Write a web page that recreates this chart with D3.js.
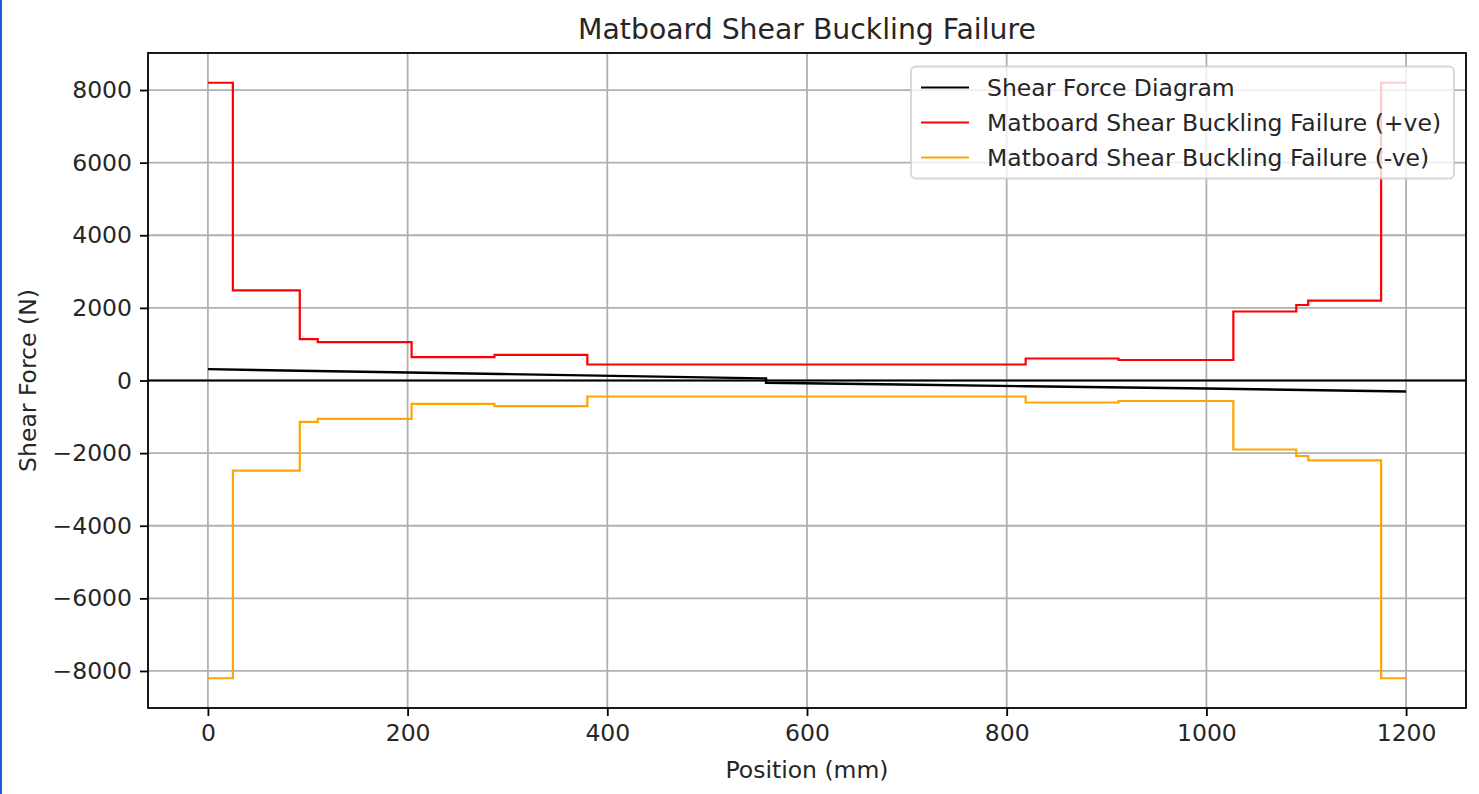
<!DOCTYPE html>
<html>
<head>
<meta charset="utf-8">
<script src="https://cdn.jsdelivr.net/npm/d3@7"></script>
<style>
  html, body { margin: 0; padding: 0; background: #ffffff; }
  svg { display: block; }
  text { font-family: "DejaVu Sans", sans-serif; fill: #262626; }
</style>
</head>
<body>
<svg id="chart" width="1479" height="794"></svg>
<script>
// ---- data ----
const title = "Matboard Shear Buckling Failure";
const xLabel = "Position (mm)";
const yLabel = "Shear Force (N)";
const seriesNames = ["Shear Force Diagram", "Matboard Shear Buckling Failure (+ve)", "Matboard Shear Buckling Failure (-ve)"];

// shear force diagram (N) vs position (mm)
const sfdX = [0, 293, 559, 559, 693, 820, 1000, 1200];
const sfdV = [312, 180, 58, -64, -112, -158, -222, -302];

// step breakpoints (mm) for buckling-failure envelopes
const stepX = [0, 25, 92, 110, 204, 287, 380, 819, 912, 1027, 1090, 1102, 1175, 1200];
// value on each segment starting at the corresponding breakpoint (last repeats to close)
const posFail = [8200, 2480, 1140, 1055, 645, 705, 440, 606, 565, 1900, 2080, 2200, 8200, 8200];
const negFail = [-8200, -2480, -1140, -1055, -645, -705, -440, -606, -565, -1900, -2080, -2200, -8200, -8200];

const xTicks = [0, 200, 400, 600, 800, 1000, 1200];
const yTicks = [-8000, -6000, -4000, -2000, 0, 2000, 4000, 6000, 8000];

// ---- layout ----
const svg = d3.select("#chart");
const L = 148, R = 1466, T = 53, B = 708;
const fs = 23.5;

// matplotlib-like 5% margins
const xMin = d3.min(stepX), xMax = d3.max(stepX);
const xPad = (xMax - xMin) * 0.05;
const yMin = d3.min(negFail), yMax = d3.max(posFail);
const yPad = (yMax - yMin) * 0.05;

const x = d3.scaleLinear().domain([xMin - xPad, xMax + xPad]).range([L, R]);
const y = d3.scaleLinear().domain([yMin - yPad, yMax + yPad]).range([B, T]);

// blue frame edge at left
svg.append("rect").attr("x", 0).attr("y", 0).attr("width", 2).attr("height", 794).attr("fill", "#1a5fd6");

// grid
const grid = svg.append("g");
grid.selectAll("line.vx").data(xTicks).join("line")
  .attr("x1", d => x(d)).attr("x2", d => x(d)).attr("y1", T).attr("y2", B)
  .attr("stroke", "#b0b0b0").attr("stroke-width", 1.8);
grid.selectAll("line.hy").data(yTicks).join("line")
  .attr("x1", L).attr("x2", R).attr("y1", d => y(d)).attr("y2", d => y(d))
  .attr("stroke", "#b0b0b0").attr("stroke-width", 1.8);

// lines
const sfdData = sfdX.map((d, i) => [d, sfdV[i]]);
const posData = stepX.map((d, i) => [d, posFail[i]]);
const negData = stepX.map((d, i) => [d, negFail[i]]);

const lineLin = d3.line().x(d => x(d[0])).y(d => y(d[1]));
const lineStep = d3.line().x(d => x(d[0])).y(d => y(d[1])).curve(d3.curveStepAfter);

svg.append("path").datum(sfdData).attr("d", lineLin)
  .attr("fill", "none").attr("stroke", "#000000").attr("stroke-width", 2.4);
svg.append("path").datum(posData).attr("d", lineStep)
  .attr("fill", "none").attr("stroke", "#ff0000").attr("stroke-width", 2.2);
svg.append("path").datum(negData).attr("d", lineStep)
  .attr("fill", "none").attr("stroke", "#ffa500").attr("stroke-width", 2.2);

// zero line
svg.append("line").attr("x1", L).attr("x2", R).attr("y1", y(0)).attr("y2", y(0))
  .attr("stroke", "#000000").attr("stroke-width", 2);

// axes
const fmt = d3.format("d");
const xAxis = d3.axisBottom(x).tickValues(xTicks).tickSize(8).tickPadding(8).tickFormat(fmt);
const yAxis = d3.axisLeft(y).tickValues(yTicks).tickSize(8).tickPadding(8).tickFormat(d => d < 0 ? "\u2212" + Math.abs(d) : String(d));

const gx = svg.append("g").attr("transform", `translate(0,${B})`).call(xAxis);
const gy = svg.append("g").attr("transform", `translate(${L},0)`).call(yAxis);
[gx, gy].forEach(g => {
  g.select(".domain").remove();
  g.selectAll(".tick line").attr("stroke", "#000").attr("stroke-width", 1.8);
  g.selectAll(".tick text").attr("font-size", fs).attr("font-family", "DejaVu Sans").attr("fill", "#262626");
});

// spines
svg.append("rect").attr("x", L).attr("y", T).attr("width", R - L).attr("height", B - T)
  .attr("fill", "none").attr("stroke", "#000").attr("stroke-width", 1.8);

// title and labels
svg.append("text").attr("x", (L + R) / 2).attr("y", 38.5).attr("text-anchor", "middle")
  .attr("font-size", 28.3).text(title);
svg.append("text").attr("x", (L + R) / 2).attr("y", 778).attr("text-anchor", "middle")
  .attr("font-size", fs).text(xLabel);
svg.append("text").attr("transform", `translate(36,${(T + B) / 2}) rotate(-90)`).attr("text-anchor", "middle")
  .attr("font-size", fs).text(yLabel);

// legend
const lg = svg.append("g");
lg.append("rect").attr("x", 911).attr("y", 66.5).attr("width", 543).attr("height", 112).attr("rx", 5)
  .attr("fill", "#ffffff").attr("fill-opacity", 0.8).attr("stroke", "#cccccc").attr("stroke-opacity", 0.8).attr("stroke-width", 1.8);
const legColors = ["#000000", "#ff0000", "#ffa500"];
const rowY = [87.5, 122.5, 157.5];
seriesNames.forEach((n, i) => {
  lg.append("line").attr("x1", 921).attr("x2", 969).attr("y1", rowY[i]).attr("y2", rowY[i])
    .attr("stroke", legColors[i]).attr("stroke-width", 2.2);
  lg.append("text").attr("x", 987).attr("y", rowY[i]).attr("dy", "0.35em").attr("font-size", fs).text(n);
});
</script>
</body>
</html>
